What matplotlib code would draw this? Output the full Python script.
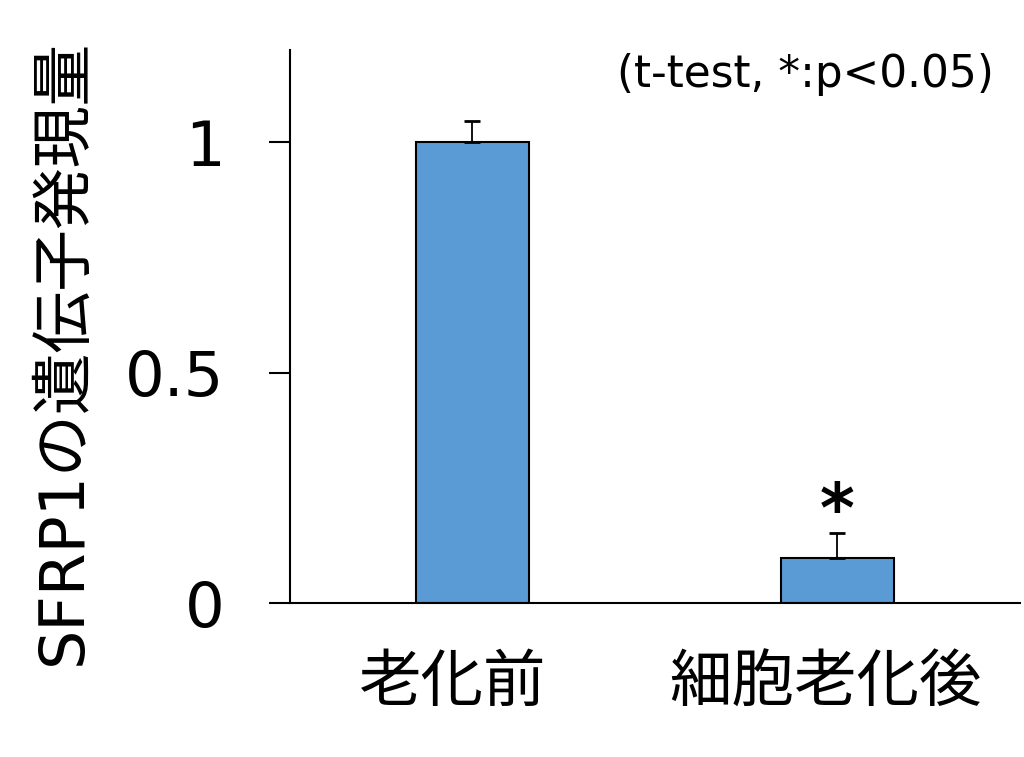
import matplotlib.pyplot as plt
from matplotlib.transforms import ScaledTranslation

plt.rcParams['font.family'] = ['DejaVu Sans', 'Noto Sans CJK JP']

groups = ['老化前', '細胞老化後']
values = [1.0, 0.097]
errors = [0.045, 0.055]

fig = plt.figure(figsize=(10.24, 7.57), dpi=100)
ax = fig.add_axes([0.283, 0.2034, 0.713, 0.7306])

x = range(len(groups))
ax.bar(x, values, width=0.31, color='#5B9BD5', edgecolor='black', linewidth=1.5, zorder=2)
ax.errorbar(x, values, yerr=[[0, 0], errors], fmt='none', ecolor='black',
            elinewidth=1.3, capsize=6, capthick=2, zorder=3)

ax.set_xlim(-0.5, 1.5)
ax.set_ylim(0, 1.2)
ax.set_yticks([0, 0.5, 1])
ax.set_yticklabels(['0', '0.5', '1'])
ax.set_xticks(list(x))
ax.set_xticklabels(groups)

ax.spines['top'].set_visible(False)
ax.spines['right'].set_visible(False)
ax.spines['left'].set_linewidth(1.5)
ax.spines['bottom'].set_linewidth(1.5)
ax.tick_params(axis='y', direction='out', length=15, width=1.5, labelsize=45, pad=32)
ax.tick_params(axis='x', length=0, labelsize=45, pad=37)

# labels sit a little left of the bar centres in the original
for lab, dx in zip(ax.get_xticklabels(), [-20, -12]):
    lab.set_transform(lab.get_transform() + ScaledTranslation(dx / 100, 0, fig.dpi_scale_trans))

ax.set_ylabel('SFRP1の遺伝子発現量', fontsize=44.5)
ax.yaxis.set_label_coords(-0.268, 0.455)

ax.text(1, 0.155, '*', ha='center', va='baseline', fontsize=48, fontweight='bold')
ax.text(0.965, 0.955, '(t-test, *:p<0.05)', transform=ax.transAxes,
        ha='right', va='center', fontsize=31.5)

fig.savefig('out.png', dpi=100)
